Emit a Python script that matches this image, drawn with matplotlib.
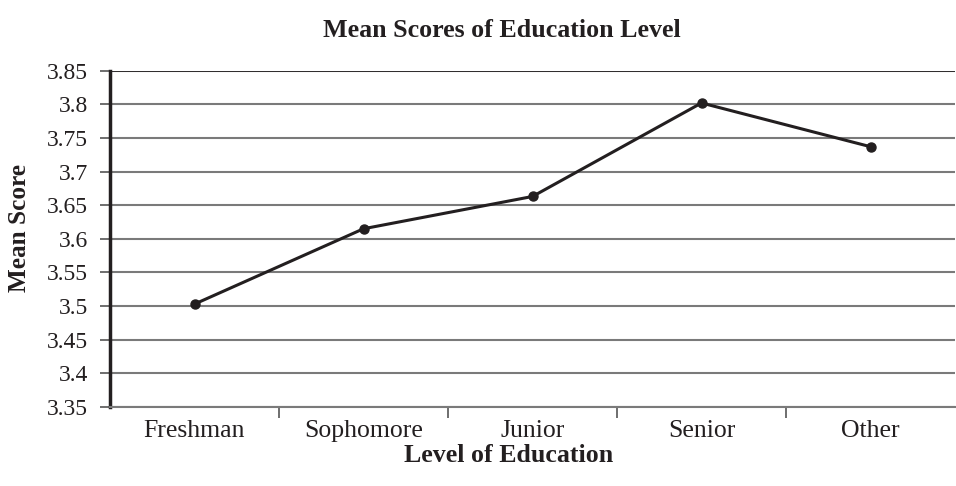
import matplotlib
matplotlib.use("Agg")
import matplotlib.pyplot as plt
import numpy as np

categories = ["Freshman", "Sophomore", "Junior", "Senior", "Other"]
mean_scores = [3.503, 3.615, 3.663, 3.802, 3.737]
y_ticks = [3.35, 3.40, 3.45, 3.50, 3.55, 3.60, 3.65, 3.70, 3.75, 3.80, 3.85]
y_tick_labels = ["3.35", "3.4", "3.45", "3.5", "3.55", "3.6", "3.65", "3.7", "3.75", "3.8", "3.85"]

plt.rcParams['font.family'] = ['Liberation Serif', 'DejaVu Serif']

fig = plt.figure(figsize=(9.56, 4.86), dpi=100)
ax = fig.add_axes([110/956, 79/486, 845/956, (407-70.7)/486])

x = np.arange(len(categories))
ax.plot(x, mean_scores, color='#231f20', lw=2.2, marker='o', ms=6.5, zorder=3)

ax.set_xlim(-0.5, len(categories) - 0.5)
ax.set_ylim(3.35, 3.85)
ax.set_yticks(y_ticks)
ax.set_yticklabels(y_tick_labels, fontsize=17, color='#231f20')
ax.set_xticks(x)
ax.set_xticklabels(categories, fontsize=18.5, color='#231f20')
ax.set_xticks(np.arange(0.5, len(categories) - 0.5, 1), minor=True)
ax.tick_params(axis='x', which='major', length=0, pad=9)
ax.tick_params(axis='x', which='minor', length=8, width=1.2, color='#555555', direction='out')
ax.tick_params(axis='y', which='major', length=7, width=1.2, color='#555555', pad=9)

ax.grid(axis='y', color='#7a7a7a', lw=1.5, zorder=0)
ax.set_axisbelow(True)
for s in ['top', 'right']:
    ax.spines[s].set_visible(False)
ax.spines['left'].set_linewidth(2.5)
ax.spines['left'].set_color('#231f20')
ax.spines['bottom'].set_color('#7a7a7a')
ax.spines['bottom'].set_linewidth(1.5)
ax.axhline(3.85, color='#231f20', lw=1.2, zorder=1)

fig.text(502/956, 1 - 30/486, "Mean Scores of Education Level", ha='center', va='center',
         fontsize=18.7, fontweight='bold', color='#231f20')
fig.text(509/956, 1 - 456/486, "Level of Education", ha='center', va='center',
         fontsize=18.6, fontweight='bold', color='#231f20')
fig.text(20/956, 1 - 228/486, "Mean Score", ha='center', va='center', rotation=90,
         fontsize=18.2, fontweight='bold', color='#231f20')

fig.savefig("out.png", dpi=100)
